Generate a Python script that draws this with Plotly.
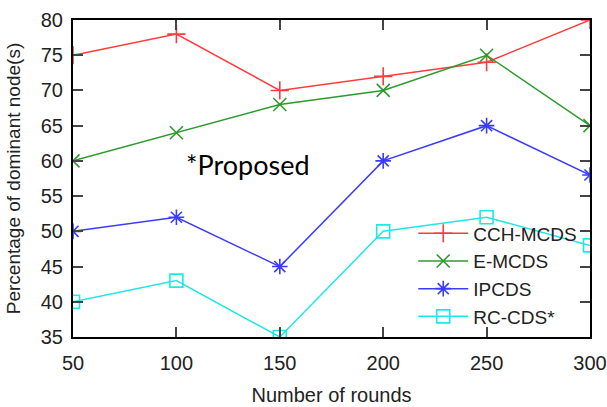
import plotly.graph_objects as go

rounds = [50, 100, 150, 200, 250, 300]
cch_mcds = [75, 78, 70, 72, 74, 80]
e_mcds = [60, 64, 68, 70, 75, 65]
ipcds = [50, 52, 45, 60, 65, 58]
rc_cds = [40, 43, 35, 50, 52, 48]

series = [
    ("CCH-MCDS", cch_mcds, "#ff3b3b", "cross-thin-open"),
    ("E-MCDS", e_mcds, "#2e9a2e", "x-thin-open"),
    ("IPCDS", ipcds, "#3a3aff", "asterisk-open"),
    ("RC-CDS*", rc_cds, "#22e6e6", "square-open"),
]

fig = go.Figure()
for name, vals, color, sym in series:
    fig.add_trace(go.Scatter(
        x=rounds, y=vals, name=name, mode="lines+markers",
        line=dict(color=color, width=1.5),
        marker=dict(symbol=sym, size=13, color=color, line=dict(color=color, width=1.6)),
    ))

font_main = "Liberation Sans"
fig.update_layout(
    width=607, height=407,
    margin=dict(l=73, r=17, t=20, b=70),
    paper_bgcolor="white", plot_bgcolor="white",
    font=dict(family=font_main, size=20, color="#222"),
    showlegend=True,
    legend=dict(
        x=0.985, y=0.005, xanchor="right", yanchor="bottom",
        bgcolor="rgba(0,0,0,0)", font=dict(size=19, family=font_main, color="#222"),
        tracegroupgap=0, itemwidth=50,
    ),
    annotations=[dict(
        text="*Proposed", x=0.338, y=0.545, xref="paper", yref="paper",
        showarrow=False, font=dict(family="Lato", size=27, color="black"),
    )],
)
fig.update_xaxes(
    range=[50, 300], tickvals=rounds, ticks="inside", ticklen=10, tickcolor="#444", tickwidth=1.5,
    showline=True, linecolor="black", linewidth=2, mirror="ticks", showgrid=False, zeroline=False,
    title=dict(text="Number of rounds", font=dict(size=20, family=font_main)),
    tickfont=dict(size=20, family=font_main), ticklabelstandoff=7, automargin=False,
)
fig.update_yaxes(
    range=[35, 80], dtick=5, ticks="inside", ticklen=10, tickcolor="#444", tickwidth=1.5,
    showline=True, linecolor="black", linewidth=2, mirror="ticks", showgrid=False, zeroline=False,
    title=dict(text="Percentage of dominant node(s)", font=dict(size=19, family=font_main)),
    tickfont=dict(size=20, family=font_main), ticklabelstandoff=4, automargin=False,
)
fig.write_html("out.html")
